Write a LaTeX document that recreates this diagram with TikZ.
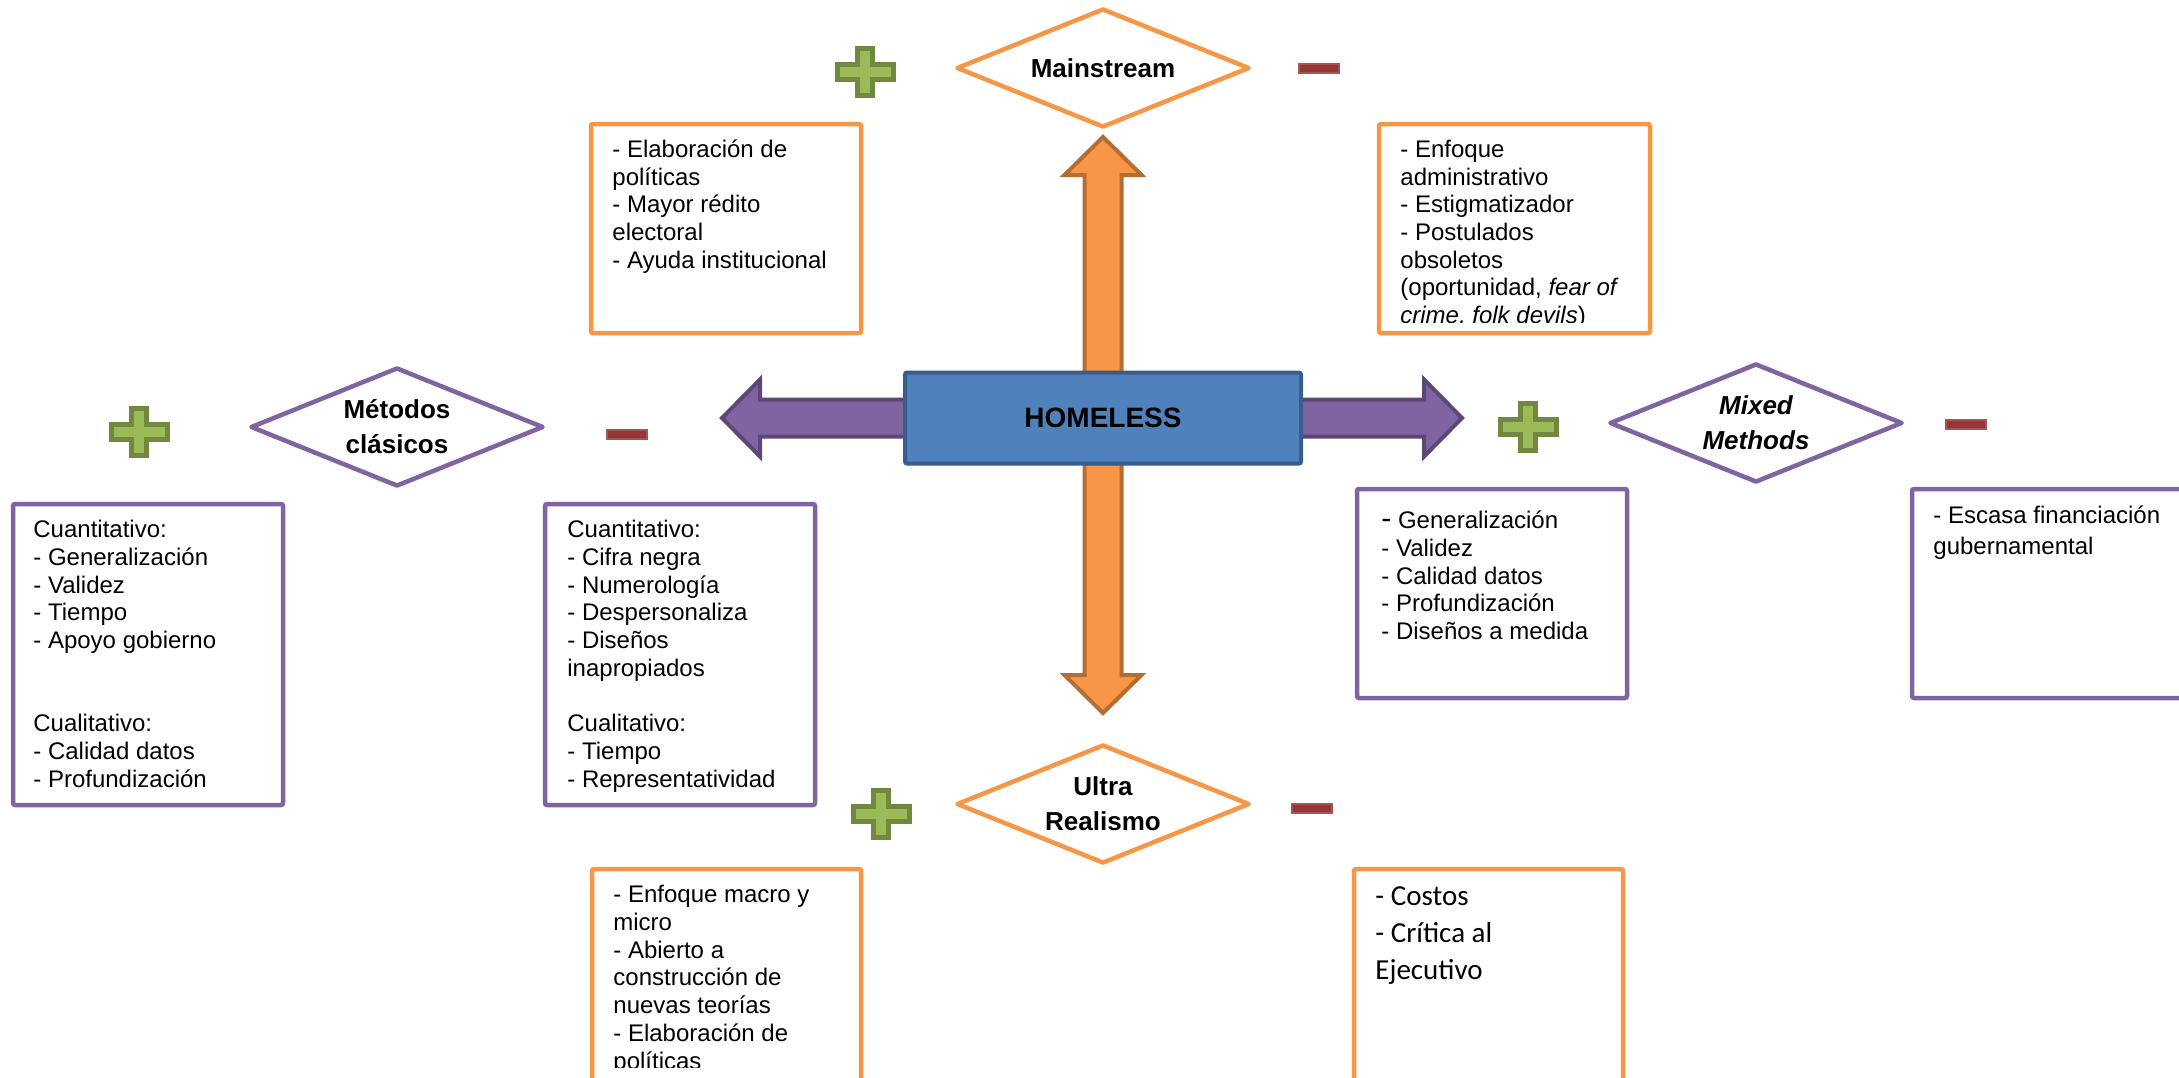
\documentclass[tikz,border=0pt]{standalone}
\usepackage{fontspec}
\setmainfont{Liberation Sans}
\newfontfamily\carlito{Carlito}
\usetikzlibrary{shapes.geometric,calc,backgrounds}

\definecolor{accorange}{HTML}{F79646}
\definecolor{darkorange}{HTML}{B66D31}
\definecolor{accpurple}{HTML}{8064A2}
\definecolor{darkpurple}{HTML}{5C4776}
\definecolor{accblue}{HTML}{4F81BD}
\definecolor{darkblue}{HTML}{385D8A}
\definecolor{accgreen}{HTML}{9BBB59}
\definecolor{darkgreen}{HTML}{71893F}
\definecolor{accred}{HTML}{953735}

% block arrow: style, start, tip
\newcommand{\fatarrow}[3]{%
  \draw[#1] ($(#2)!9.25pt!90:(#3)$)
    -- ($($(#3)!19pt!(#2)$)!9.25pt!-90:(#2)$)
    -- ($($(#3)!19pt!(#2)$)!19.25pt!-90:(#2)$)
    -- (#3)
    -- ($($(#3)!19pt!(#2)$)!19.25pt!90:(#2)$)
    -- ($($(#3)!19pt!(#2)$)!9.25pt!90:(#2)$)
    -- ($(#2)!9.25pt!-90:(#3)$) -- cycle;}

\tikzset{
  diam/.style={diamond, draw, fill=white, line width=2.25pt, line join=round, aspect=2.46,
    minimum width=146.5pt, minimum height=59.5pt, inner sep=0pt, align=center,
    font=\fontsize{13}{17.5}\selectfont\bfseries},
  box/.style={draw, fill=white, line width=2.25pt, rounded corners=1pt, inner sep=0pt,
    outer sep=0pt, anchor=north west},
  obox/.style={box, draw=accorange},
  pbox/.style={box, draw=accpurple},
  txt/.style={anchor=north west, inner sep=0pt, align=left, font=\fontsize{12}{13.85}\selectfont},
  homebox/.style={rectangle, fill=accblue, draw=darkblue, line width=2pt, rounded corners=1pt,
    minimum width=198pt, minimum height=45.5pt, font=\fontsize{14}{16}\selectfont\bfseries},
  oarrow/.style={fill=accorange, draw=darkorange, line width=2pt},
  parrow/.style={fill=accpurple, draw=darkpurple, line width=2pt},
  plusmark/.pic={\draw[fill=accgreen, draw=darkgreen, line width=2.5pt]
    (-7.5,-23.5) -- (7.5,-23.5) -- (7.5,-7.5) -- (28,-7.5) -- (28,7.5) -- (7.5,7.5)
    -- (7.5,23.5) -- (-7.5,23.5) -- (-7.5,7.5) -- (-28,7.5) -- (-28,-7.5) -- (-7.5,-7.5) -- cycle;},
  minusmark/.pic={\draw[fill=accred, draw=accred!85!white, line width=1pt] (-20,-4.5) rectangle (20,4.5);}
}

\begin{document}
\begin{tikzpicture}[x=0.5pt, y=-0.5pt]
\useasboundingbox (0,0) rectangle (2179,1077);

\node[homebox] (homeless) at (1103,418) {HOMELESS};

\node[diam, draw=accorange] (main) at (1103,68) {Mainstream};
\node[diam, draw=accpurple] (clasicos) at (397,427) {Métodos\\clásicos};
\node[diam, draw=accpurple, font=\fontsize{13}{17.5}\selectfont\bfseries\itshape] (mixed) at (1756,423) {Mixed\\Methods};
\node[diam, draw=accorange] (ultra) at (1103,804) {Ultra\\Realismo};

\coordinate (uptip) at (1103,137);
\coordinate (downtip) at (1103,713);
\coordinate (lefttip) at (722,418);
\coordinate (righttip) at (1462,418);

\begin{scope}[on background layer]
  \fatarrow{oarrow}{homeless.center}{uptip}
  \fatarrow{oarrow}{homeless.center}{downtip}
  \fatarrow{parrow}{homeless.center}{lefttip}
  \fatarrow{parrow}{homeless.center}{righttip}
\end{scope}

\pic at (865,72) {plusmark};
\pic at (1319,68) {minusmark};
\pic at (139,432) {plusmark};
\pic at (627,434) {minusmark};
\pic at (1528,427) {plusmark};
\pic at (1966,424) {minusmark};
\pic at (881,814) {plusmark};
\pic at (1312,808) {minusmark};

% Mainstream
\node[obox, minimum width=135pt, minimum height=104.5pt] (mainpos) at (591,124) {};
\node[obox, minimum width=135.5pt, minimum height=104.5pt] (mainneg) at (1379,124) {};
\node[txt] (mainpostxt) at ([shift={(21,13.6)}]mainpos.north west)
  {\strut- Elaboración de\\políticas\\- Mayor rédito\\electoral\\- Ayuda institucional};
\begin{scope}
  \clip (0,0) rectangle (2179,322);
  \node[txt] (mainnegtxt) at ([shift={(21,13.6)}]mainneg.north west)
    {\strut- Enfoque\\administrativo\\- Estigmatizador\\- Postulados\\obsoletos\\(oportunidad, \textit{fear of}\\\textit{crime, folk devils})};
\end{scope}

% Metodos clasicos
\node[pbox, minimum width=135pt, minimum height=150.5pt] (clapos) at (13,504) {};
\node[pbox, minimum width=135pt, minimum height=150.5pt] (claneg) at (545,504) {};
\node[txt] (clapostxt) at ([shift={(20,14)}]clapos.north west)
  {\strut Cuantitativo:\\- Generalización\\- Validez\\- Tiempo\\- Apoyo gobierno\\[27.7pt]Cualitativo:\\- Calidad datos\\- Profundización};
\node[txt] (clanegtxt) at ([shift={(22,14)}]claneg.north west)
  {\strut Cuantitativo:\\- Cifra negra\\- Numerología\\- Despersonaliza\\- Diseños\\inapropiados\\[13.85pt]Cualitativo:\\- Tiempo\\- Representatividad};

% Mixed methods
\node[pbox, minimum width=135pt, minimum height=104.5pt] (mixpos) at (1357,489) {};
\node[pbox, minimum width=150pt, minimum height=104.5pt] (mixneg) at (1912,489) {};
\node[txt] (mixpostxt) at ([shift={(24,20)}]mixpos.north west)
  {\strut{\fontsize{15}{13.85}\selectfont-} Generalización\\- Validez\\- Calidad datos\\- Profundización\\- Diseños a medida};
\node[txt, font=\fontsize{12}{15.5}\selectfont] (mixnegtxt) at ([shift={(21,12.5)}]mixneg.north west)
  {\strut- Escasa financiación\\gubernamental};

% Ultra realismo
\node[obox, minimum width=134.5pt, minimum height=120pt] (ultrapos) at (592,869) {};
\node[obox, minimum width=134.5pt, minimum height=120pt] (ultraneg) at (1354,869) {};
\begin{scope}
  \clip (0,0) rectangle (2179,1067);
  \node[txt] (ultrapostxt) at ([shift={(21,14)}]ultrapos.north west)
    {\strut- Enfoque macro y\\micro\\- Abierto a\\construcción de\\nuevas teorías\\- Elaboración de\\políticas};
\end{scope}
\node[txt, font=\carlito\fontsize{14.5}{18.5}\selectfont] (ultranegtxt) at ([shift={(21,10)}]ultraneg.north west)
  {\strut- Costos\\- Crítica al\\Ejecutivo};
\end{tikzpicture}
\end{document}
